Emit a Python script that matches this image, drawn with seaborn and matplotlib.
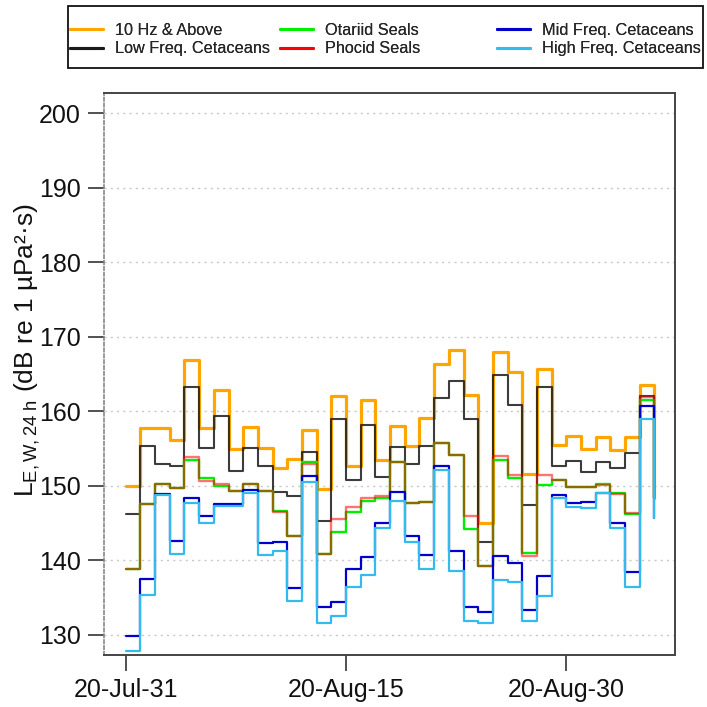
import numpy as np
import pandas as pd
import matplotlib
matplotlib.use("Agg")
import matplotlib.pyplot as plt
import matplotlib.dates as mdates
from matplotlib.patches import Rectangle
import seaborn as sns

# Daily weighted sound exposure levels (dB re 1 uPa^2 s), one value per day
start_date = "2020-07-31"
n_days = 37
above_10hz = [150.0, 157.8, 157.8, 156.1, 166.9, 157.8, 162.9, 154.9, 157.9, 155.1,
              152.4, 153.6, 157.5, 149.6, 162.1, 152.7, 161.5, 153.5, 158.0, 155.3,
              159.1, 166.3, 168.2, 162.2, 145.0, 168.0, 165.3, 151.6, 165.7, 155.5,
              156.7, 155.0, 156.5, 154.8, 156.6, 163.5, 148.3]
low_freq = [146.2, 155.4, 152.9, 152.6, 163.3, 155.1, 159.4, 152.0, 155.1, 152.7,
            149.2, 148.6, 154.6, 145.3, 158.9, 150.8, 158.1, 151.2, 155.2, 152.9,
            155.3, 161.8, 164.0, 159.0, 142.4, 164.8, 160.8, 147.4, 163.2, 152.6,
            153.3, 151.8, 153.2, 152.4, 154.4, 162.0, 148.3]
otariid = [138.9, 147.6, 150.2, 149.7, 153.5, 151.1, 150.0, 149.3, 150.3, 149.3,
           146.6, 143.3, 153.2, 140.8, 143.8, 146.5, 147.9, 148.4, 153.2, 147.7,
           147.8, 155.8, 154.1, 144.2, 139.2, 153.4, 151.1, 141.0, 150.1, 150.8,
           149.9, 149.8, 150.2, 149.0, 146.2, 161.5, 148.3]
phocid = [138.9, 147.6, 150.2, 149.7, 153.9, 150.7, 150.2, 149.3, 150.3, 149.3,
          146.5, 143.2, 152.9, 140.8, 145.6, 147.1, 148.3, 148.6, 153.2, 147.7,
          147.8, 155.8, 154.1, 145.9, 139.2, 154.0, 151.4, 140.6, 151.4, 150.8,
          149.9, 149.8, 150.1, 148.9, 146.4, 161.9, 148.3]
mid_freq = [129.9, 137.5, 148.9, 142.6, 148.3, 145.9, 147.6, 147.6, 149.4, 142.3,
            142.5, 136.3, 151.3, 133.7, 134.4, 138.9, 140.5, 145.0, 149.2, 143.3,
            140.7, 152.6, 141.3, 133.8, 133.1, 140.6, 139.6, 133.4, 137.9, 148.8,
            147.7, 147.8, 149.0, 145.0, 138.4, 160.7, 145.7]
high_freq = [127.8, 135.3, 148.8, 140.8, 147.7, 145.0, 147.3, 147.3, 149.1, 140.7,
             141.3, 134.5, 150.5, 131.6, 132.5, 136.4, 138.1, 144.4, 147.9, 142.5,
             138.9, 152.1, 138.6, 131.9, 131.6, 137.3, 137.1, 131.9, 135.2, 148.4,
             147.1, 147.0, 149.0, 144.3, 136.4, 159.0, 145.7]

series_names = ["10 Hz & Above", "Low Freq. Cetaceans", "Otariid Seals",
                "Phocid Seals", "Mid Freq. Cetaceans", "High Freq. Cetaceans"]
series_values = [above_10hz, low_freq, otariid, phocid, mid_freq, high_freq]
y_ticks = [130, 140, 150, 160, 170, 180, 190, 200]
x_tick_dates = ["2020-07-31", "2020-08-15", "2020-08-30"]

dates = pd.date_range(start_date, periods=n_days, freq="D")
df = pd.DataFrame({"date": dates})
for name, vals in zip(series_names, series_values):
    df[name] = vals

styles = {
    "10 Hz & Above": dict(color="#FFA500", lw=2.3, alpha=1.0),
    "Low Freq. Cetaceans": dict(color="#1A1A1A", lw=1.5, alpha=0.85),
    "Otariid Seals": dict(color="#00EE00", lw=1.7, alpha=1.0),
    "Phocid Seals": dict(color="#FF0000", lw=1.7, alpha=0.55),
    "Mid Freq. Cetaceans": dict(color="#0000CD", lw=1.6, alpha=1.0),
    "High Freq. Cetaceans": dict(color="#33BBEE", lw=1.6, alpha=1.0),
}

sns.set_theme(style="white")
plt.rcParams["font.family"] = ["Liberation Sans", "DejaVu Sans"]
plt.rcParams["mathtext.fontset"] = "custom"
plt.rcParams["mathtext.rm"] = "Liberation Sans"
plt.rcParams["mathtext.it"] = "Liberation Sans"

W = H = 707.0
fig = plt.figure(figsize=(7.07, 7.07), dpi=100)
ax = fig.add_axes([104 / W, 1 - 655 / H, (675 - 104) / W, (655 - 93) / H])

handles = {}
for name in series_names:
    st = styles[name]
    sns.lineplot(data=df, x="date", y=name, ax=ax, drawstyle="steps-post",
                 color=st["color"], lw=st["lw"], alpha=st["alpha"])
    handles[name] = plt.Line2D([], [], color=st["color"], lw=2.2)

# horizontal dotted grid
for yv in y_ticks:
    ax.axhline(yv, color="#C8C8C8", lw=1.0, ls=(0, (1.5, 3)), zorder=0)

x0 = mdates.date2num(dates[0])
ax.set_xlim(x0 - 1.48, x0 + 37.4)
ax.set_ylim(127.3, 202.7)
ax.set_yticks(y_ticks)
ax.set_xticks([mdates.date2num(pd.Timestamp(d)) for d in x_tick_dates])
ax.xaxis.set_major_formatter(mdates.DateFormatter("%y-%b-%d"))

ax.tick_params(axis="both", which="major", direction="out", length=11.5, width=1.2,
               colors="#333333", labelsize=18, labelcolor="#111111", pad=5,
               bottom=True, left=True)
ax.set_xlabel("")
ax.set_ylabel(r"L$_{\mathrm{E,W,24\ h}}$ (dB re 1 µPa²·s)", fontsize=19,
              color="#111111")
ax.yaxis.set_label_coords(-0.108, 0.543)

for side in ["top", "right", "bottom"]:
    ax.spines[side].set_color("#444444")
    ax.spines[side].set_linewidth(1.4)
ax.spines["left"].set_color("#888888")
ax.spines["left"].set_linewidth(1.2)
ax.spines["left"].set_linestyle((0, (2, 1.5)))

# legend: three columns placed individually inside one framed box
columns = [(70, series_names[0:2]), (280, series_names[2:4]), (497, series_names[4:6])]
for xpos, names in columns:
    leg = fig.legend([handles[n] for n in names], names, loc="upper left",
                     bbox_to_anchor=(xpos / W, 1 - 23 / H),
                     bbox_transform=fig.transFigure, frameon=False,
                     fontsize=11.7, handlelength=2.0, handletextpad=0.75,
                     borderpad=0, borderaxespad=0, labelspacing=0.2)
    fig.add_artist(leg)
fig.add_artist(Rectangle((68 / W, 1 - 68 / H), (703 - 68) / W, 62 / H,
                         transform=fig.transFigure, fill=False,
                         edgecolor="#111111", lw=1.3))

fig.savefig("out.png", dpi=100)
